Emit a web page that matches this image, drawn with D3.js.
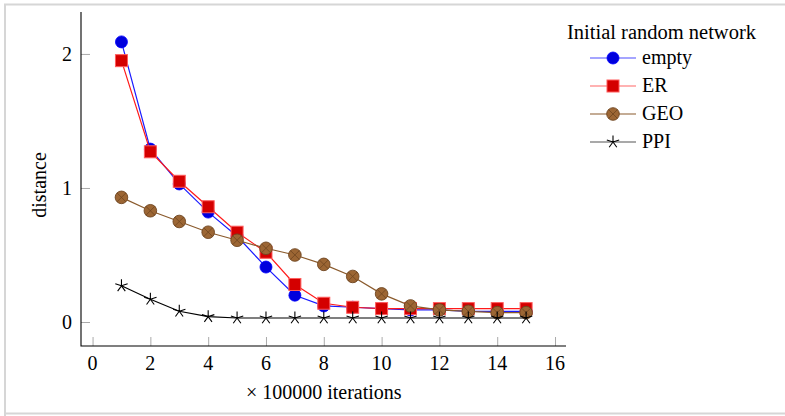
<!DOCTYPE html>
<html>
<head>
<meta charset="utf-8">
<script src="https://cdn.jsdelivr.net/npm/d3@7"></script>
<style>
  html, body { margin: 0; padding: 0; background: #fff; }
  svg text { font-family: "Liberation Serif", "DejaVu Serif", serif; }
</style>
</head>
<body>
<svg id="chart" width="785" height="416"></svg>
<script>
// Iteration counts (× 100000)
const iterations = [1, 2, 3, 4, 5, 6, 7, 8, 9, 10, 11, 12, 13, 14, 15];

// Distance per initial random network
const emptyValues = [2.09, 1.29, 1.03, 0.82, 0.64, 0.41, 0.20, 0.12, 0.11, 0.10, 0.09, 0.09, 0.08, 0.08, 0.08];
const erValues    = [1.95, 1.27, 1.05, 0.86, 0.67, 0.52, 0.28, 0.14, 0.11, 0.10, 0.10, 0.10, 0.10, 0.10, 0.10];
const geoValues   = [0.93, 0.83, 0.75, 0.67, 0.61, 0.55, 0.50, 0.43, 0.34, 0.21, 0.12, 0.09, 0.08, 0.07, 0.07];
const ppiValues   = [0.27, 0.17, 0.08, 0.04, 0.03, 0.03, 0.03, 0.03, 0.03, 0.03, 0.03, 0.03, 0.03, 0.03, 0.03];

const xTicks = [0, 2, 4, 6, 8, 10, 12, 14, 16];
const yTicks = [0, 1, 2];

const seriesNames = ["empty", "ER", "GEO", "PPI"];
const legendTitle = "Initial random network";
const xLabel = "\u00D7 100000 iterations";
const yLabel = "distance";

const FONT = "'Liberation Serif', 'DejaVu Serif', serif";

const series = [
  { name: seriesNames[0], values: emptyValues, mark: "circle", line: "#1a1aff", fill: "#0000dd", stroke: "#0000ff", legendLine: "#4d4dff" },
  { name: seriesNames[1], values: erValues, mark: "square", line: "#ff1a1a", fill: "#d40000", stroke: "#ff5c5c", legendLine: "#ff6666" },
  { name: seriesNames[2], values: geoValues, mark: "otimes", line: "#8a5a2c", fill: "#9c6634", stroke: "#6e4520", legendLine: "#8a5a2c" },
  { name: seriesNames[3], values: ppiValues, mark: "star", line: "#000000", fill: "none", stroke: "#000000", legendLine: "#555555" }
];

const svg = d3.select("#chart").attr("font-family", FONT);

// Outer frame
svg.append("path")
  .attr("d", "M5,416 L5,4.5 L785,4.5 M5,413.5 L785,413.5")
  .attr("fill", "none")
  .attr("stroke", "#d6d6d6")
  .attr("stroke-width", 2);

const plot = { left: 81, right: 566, top: 12, bottom: 346 };

const x = d3.scaleLinear().domain([-0.4, 16.38]).range([plot.left, plot.right]);
const y = d3.scaleLinear().domain([-0.179, 2.313]).range([plot.bottom, plot.top]);

// Tick marks (grey, pointing inward)
const xAxis = d3.axisBottom(x).tickValues(xTicks).tickSize(-9).tickPadding(0).tickFormat("");
const gx = svg.append("g").attr("transform", `translate(0,${plot.bottom})`).call(xAxis);
gx.select(".domain").remove();
gx.selectAll(".tick line").attr("stroke", "#aaaaaa").attr("stroke-width", 1);

const yAxis = d3.axisLeft(y).tickValues(yTicks).tickSize(-9).tickFormat("");
const gy = svg.append("g").attr("transform", `translate(${plot.left},0)`).call(yAxis);
gy.select(".domain").remove();
gy.selectAll(".tick line").attr("stroke", "#aaaaaa").attr("stroke-width", 1);

// Axis lines (left and bottom only)
svg.append("path")
  .attr("d", `M${plot.left},${plot.top} L${plot.left},${plot.bottom} L${plot.right},${plot.bottom}`)
  .attr("fill", "none")
  .attr("stroke", "#000")
  .attr("stroke-width", 1.1);

// Tick labels
svg.append("g").selectAll("text").data(xTicks).join("text")
  .attr("x", d => x(d))
  .attr("y", plot.bottom + 24)
  .attr("text-anchor", "middle")
  .attr("font-family", FONT)
  .attr("font-size", 20)
  .text(d => d);

svg.append("g").selectAll("text").data(yTicks).join("text")
  .attr("x", plot.left - 9)
  .attr("y", d => y(d))
  .attr("dy", "0.34em")
  .attr("text-anchor", "end")
  .attr("font-family", FONT)
  .attr("font-size", 20)
  .text(d => d);

// Axis titles
svg.append("text")
  .attr("x", (x(0) + x(16)) / 2)
  .attr("y", 399)
  .attr("text-anchor", "middle")
  .attr("font-family", FONT)
  .attr("font-size", 20)
  .text(xLabel);

svg.append("text")
  .attr("transform", `translate(46,${(y(0) + y(2)) / 2 - 3}) rotate(-90)`)
  .attr("text-anchor", "middle")
  .attr("font-family", FONT)
  .attr("font-size", 20)
  .text(yLabel);

// Marker drawing
function drawMark(g, s, cx, cy) {
  if (s.mark === "circle") {
    g.append("circle").attr("cx", cx).attr("cy", cy).attr("r", 6)
      .attr("fill", s.fill).attr("stroke", s.stroke).attr("stroke-width", 0.8);
  } else if (s.mark === "square") {
    g.append("rect").attr("x", cx - 6).attr("y", cy - 6).attr("width", 12).attr("height", 12)
      .attr("fill", s.fill).attr("stroke", s.stroke).attr("stroke-width", 1);
  } else if (s.mark === "otimes") {
    const r = 6.3, k = r * Math.SQRT1_2;
    g.append("circle").attr("cx", cx).attr("cy", cy).attr("r", r)
      .attr("fill", s.fill).attr("stroke", s.stroke).attr("stroke-width", 0.9);
    g.append("path")
      .attr("d", `M${cx - k},${cy - k}L${cx + k},${cy + k}M${cx - k},${cy + k}L${cx + k},${cy - k}`)
      .attr("stroke", s.stroke).attr("stroke-width", 0.8);
  } else if (s.mark === "star") {
    const r = 6.5;
    let d = "";
    for (let i = 0; i < 5; i++) {
      const a = -Math.PI / 2 + i * 2 * Math.PI / 5;
      d += `M${cx},${cy}L${cx + r * Math.cos(a)},${cy + r * Math.sin(a)}`;
    }
    g.append("path").attr("d", d).attr("stroke", s.stroke).attr("stroke-width", 1.1).attr("fill", "none");
  }
}

const line = d3.line().x(d => x(d[0])).y(d => y(d[1]));

series.forEach(s => {
  const pts = iterations.map((it, i) => [it, s.values[i]]);
  const g = svg.append("g");
  g.append("path").datum(pts)
    .attr("d", line)
    .attr("fill", "none")
    .attr("stroke", s.line)
    .attr("stroke-width", 1.2);
  pts.forEach(p => drawMark(g, s, x(p[0]), y(p[1])));
});

// Legend
const legend = svg.append("g");
legend.append("text")
  .attr("x", 567).attr("y", 39)
  .attr("font-family", FONT)
  .attr("font-size", 20.5)
  .text(legendTitle);

series.forEach((s, i) => {
  const ly = 58 + i * 28;
  const row = legend.append("g");
  row.append("line")
    .attr("x1", 590).attr("x2", 636).attr("y1", ly).attr("y2", ly)
    .attr("stroke", s.legendLine).attr("stroke-width", 1.2);
  drawMark(row, s, 613, ly);
  row.append("text")
    .attr("x", 642).attr("y", ly).attr("dy", "0.32em")
    .attr("font-family", FONT)
    .attr("font-size", 20)
    .text(s.name);
});
</script>
</body>
</html>
